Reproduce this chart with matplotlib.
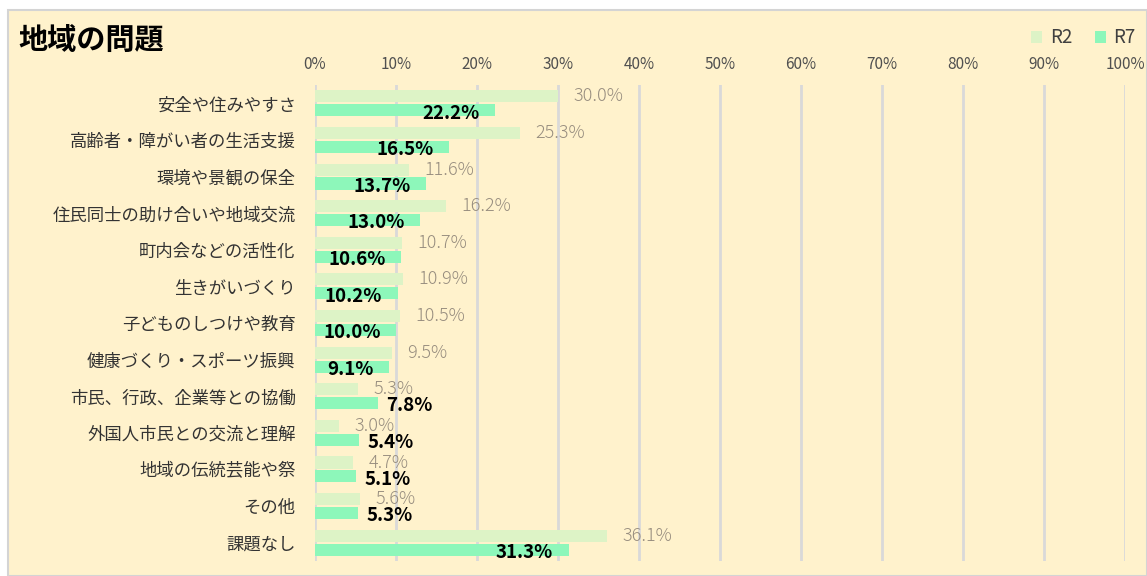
import matplotlib
matplotlib.use('Agg')
import matplotlib.pyplot as plt
from matplotlib.patches import Rectangle, Patch
import numpy as np

plt.rcParams['font.family'] = ['Noto Sans CJK JP', 'DejaVu Sans']

categories = ['安全や住みやすさ', '高齢者・障がい者の生活支援', '環境や景観の保全',
              '住民同士の助け合いや地域交流', '町内会などの活性化', '生きがいづくり',
              '子どものしつけや教育', '健康づくり・スポーツ振興', '市民、行政、企業等との協働',
              '外国人市民との交流と理解', '地域の伝統芸能や祭', 'その他', '課題なし']
r2 = [30.0, 25.3, 11.6, 16.2, 10.7, 10.9, 10.5, 9.5, 5.3, 3.0, 4.7, 5.6, 36.1]
r7 = [22.2, 16.5, 13.7, 13.0, 10.6, 10.2, 10.0, 9.1, 7.8, 5.4, 5.1, 5.3, 31.3]
xticks = np.arange(0, 101, 10)

W, H = 1147, 576
fig = plt.figure(figsize=(W / 100, H / 100), dpi=100)
fig.patch.set_facecolor('white')
fig.patches.append(Rectangle((8 / W, 0), 1 - 8 / W, 1 - 10 / H, transform=fig.transFigure,
                             facecolor='#FFF2CC', edgecolor='#d4d4d4', linewidth=1.5, zorder=-5))

ax = fig.add_axes([315 / W, 1 - 561 / H, (1125 - 315) / W, (561 - 85) / H])
ax.set_facecolor('none')
ax.set_zorder(2)

c2 = '#DDF3C6'
c7 = '#8DF7BA'
y = np.arange(len(categories))
off = 0.19
h = 0.33
ax.barh(y - off, r2, height=h, color=c2, zorder=2)
ax.barh(y + off, r7, height=h, color=c7, zorder=3)

for i in range(len(categories)):
    ax.annotate(f'{r2[i]:.1f}%', (r2[i], y[i] - off), xytext=(11, 0), textcoords='offset points',
                ha='left', va='center', fontsize=13, fontweight='light', color='#978d7f', zorder=4)
    if r7[i] >= 9:
        ax.annotate(f'{r7[i]:.1f}%', (r7[i], y[i] + off), xytext=(-11, -2), textcoords='offset points',
                    ha='right', va='center', fontsize=13.5, fontweight='bold', color='black', zorder=5)
    else:
        ax.annotate(f'{r7[i]:.1f}%', (r7[i], y[i] + off), xytext=(6, -2), textcoords='offset points',
                    ha='left', va='center', fontsize=13.5, fontweight='bold', color='black', zorder=5)

ax.set_xlim(0, 100)
ax.set_ylim(len(categories) - 0.5, -0.5)
ax.set_xticks(xticks)
ax.set_xticklabels([f'{t}%' for t in xticks], fontsize=11, color='#505050')
ax.xaxis.tick_top()
ax.tick_params(axis='x', length=0, pad=9)
ax.set_yticks(y)
ax.set_yticklabels(categories, fontsize=12.5, color='#333333')
ax.tick_params(axis='y', length=0, pad=14)
ax.grid(axis='x', color='#d9d9d9', linewidth=2, zorder=1)
ax.set_axisbelow(True)
for s in ax.spines.values():
    s.set_visible(False)

fig.text(18 / W, 1 - 40 / H, '地域の問題', fontsize=21, fontweight='bold', ha='left', va='center')

handles = [Patch(facecolor=c2, label='R2'), Patch(facecolor=c7, label='R7')]
fig.legend(handles=handles, loc='upper right', bbox_to_anchor=(1.0, 1 - 16 / H), ncol=2,
           frameon=False, fontsize=13.5, handlelength=0.6, handleheight=0.6,
           handletextpad=0.4, columnspacing=1.2, labelcolor='#404040', borderaxespad=0.2)

fig.savefig('out.png', dpi=100)
